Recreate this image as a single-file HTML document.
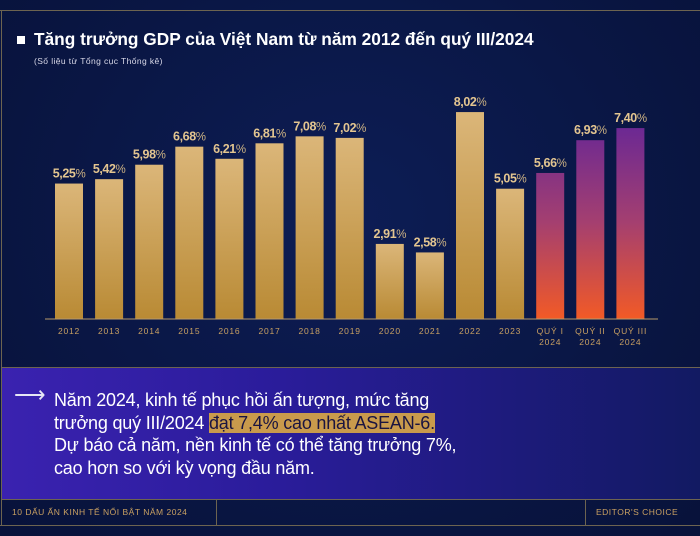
<!DOCTYPE html>
<html><head><meta charset="utf-8"><style>
body{margin:0;width:700px;height:536px;overflow:hidden;background:#0a1846;font-family:"Liberation Sans","Noto Sans CJK SC",sans-serif}
#root{position:relative;width:700px;height:536px;background:radial-gradient(ellipse at 50% 40%,#0d1d55 0%,#091541 70%,#08123a 100%)}
.abs{position:absolute}
</style></head><body>
<div id="root">
<div class="abs" style="left:0;top:10px;width:700px;height:1px;background:#6d6450"></div>
<div class="abs" style="left:1px;top:10px;width:1px;height:515px;background:#6d6450"></div>
<div class="abs" style="left:17px;top:36px;width:8px;height:8px;background:#fff"></div>
<div class="abs" style="left:34px;top:29px;color:#fff;font-size:17.3px;font-weight:bold;white-space:nowrap">Tăng trưởng GDP của Việt Nam từ năm 2012 đến quý III/2024</div>
<div class="abs" style="left:34px;top:56px;color:#d8d8e8;font-size:8.5px;letter-spacing:0.4px;white-space:nowrap">(Số liệu từ Tổng cục Thống kê)</div>
<svg class="abs" style="left:0;top:0" width="700" height="360">
<defs>
<linearGradient id="gold" x1="0" y1="0" x2="0" y2="1"><stop offset="0" stop-color="#dbb679"/><stop offset="1" stop-color="#b98a34"/></linearGradient>
<linearGradient id="purp" gradientUnits="userSpaceOnUse" x1="0" y1="125" x2="0" y2="319"><stop offset="0" stop-color="#6a2894"/><stop offset="0.5" stop-color="#a43f70"/><stop offset="1" stop-color="#f25a26"/></linearGradient>
</defs>
<g id="bars"></g>
</svg>
<div class="abs" style="left:2px;top:367px;width:698px;height:131px;background:linear-gradient(90deg,#3a22b0 0%,#2a1c9a 40%,#121a62 100%);border-top:1px solid #6d6450;border-bottom:1px solid #6d6450"></div>
<div class="abs" style="left:14px;top:382px;color:#e6e6f5;font-size:22px">⟶</div>
<div class="abs" style="left:54px;top:389px;color:#fff;font-size:18px;line-height:22.5px;letter-spacing:-0.2px;white-space:nowrap">Năm 2024, kinh tế phục hồi ấn tượng, mức tăng<br>trưởng quý III/2024 <span style="background:#c99a4c;color:#1a1440">đạt 7,4% cao nhất ASEAN-6.</span><br>Dự báo cả năm, nền kinh tế có thể tăng trưởng 7%,<br>cao hơn so với kỳ vọng đầu năm.</div>
<div class="abs" style="left:12px;top:507px;color:#c9a062;font-size:8.5px;letter-spacing:0.5px">10 DẤU ẤN KINH TẾ NỔI BẬT NĂM 2024</div>
<div class="abs" style="left:216px;top:499px;width:1px;height:26px;background:#6d6450"></div>
<div class="abs" style="left:585px;top:499px;width:1px;height:26px;background:#6d6450"></div>
<div class="abs" style="left:596px;top:507px;color:#c9a062;font-size:8.5px;letter-spacing:0.5px">EDITOR'S CHOICE</div>
<div class="abs" style="left:0;top:525px;width:700px;height:1px;background:#6d6450"></div>
</div>
<script>
const categories=["2012","2013","2014","2015","2016","2017","2018","2019","2020","2021","2022","2023","QUÝ I|2024","QUÝ II|2024","QUÝ III|2024"];
const values=[5.25,5.42,5.98,6.68,6.21,6.81,7.08,7.02,2.91,2.58,8.02,5.05,5.66,6.93,7.40];
const valueLabels=["5,25","5,42","5,98","6,68","6,21","6,81","7,08","7,02","2,91","2,58","8,02","5,05","5,66","6,93","7,40"];
const isQuarter=[0,0,0,0,0,0,0,0,0,0,0,0,1,1,1];
const NS="http://www.w3.org/2000/svg";
const g=document.getElementById('bars');
const base=319,pxPerUnit=25.8,x0=69,step=40.1,bw=28;
const xS=i=>x0+i*step;
const yS=v=>base-v*pxPerUnit;
function mk(t,a){const e=document.createElementNS(NS,t);for(const k in a)e.setAttribute(k,a[k]);return e;}
categories.forEach((c,i)=>{
  const y=yS(values[i]);
  const r=mk('rect',{x:xS(i)-bw/2,y:y,width:bw,height:base-y,fill:isQuarter[i]?'url(#purp)':'url(#gold)'});
  
  
  g.appendChild(r);
  const t=mk('text',{x:xS(i),y:y-6,'text-anchor':'middle','font-size':'12.5','font-weight':'bold','fill':'#e3c590','letter-spacing':'-0.4','font-family':'Liberation Sans, sans-serif'});
  t.innerHTML=valueLabels[i]+'<tspan font-weight="normal" fill="#cfb483" font-size="11.5">%</tspan>';
  
  
  g.appendChild(t);
  c.split('|').forEach((ln,j)=>{
    const tl=mk('text',{x:xS(i),y:334+j*11,'text-anchor':'middle','font-size':'8.5','fill':'#c9a062','letter-spacing':'0.8','font-family':'Liberation Sans, sans-serif'});
    tl.textContent=ln;
    
    
    g.appendChild(tl);
  });
});
const ax=mk('line',{x1:45,x2:658,y1:base,y2:base,stroke:'#b89a6a','stroke-width':1});


g.appendChild(ax);
</script>
</body></html>
